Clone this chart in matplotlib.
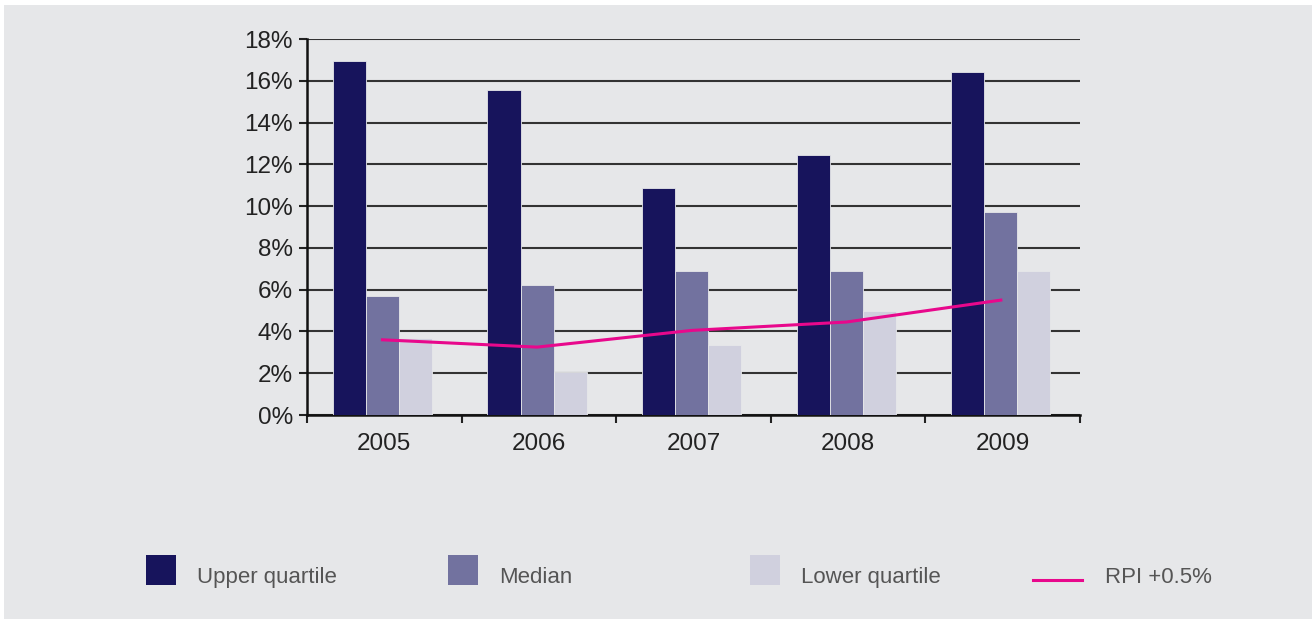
import numpy as np
import matplotlib.pyplot as plt
from matplotlib.patches import Rectangle
from matplotlib.lines import Line2D
from matplotlib.ticker import FuncFormatter

YEARS = ['2005', '2006', '2007', '2008', '2009']
UPPER = [16.95, 15.55, 10.85, 12.45, 16.4]
MEDIAN = [5.7, 6.2, 6.9, 6.9, 9.7]
LOWER = [3.7, 2.05, 3.35, 5.0, 6.9]
RPI = [3.6, 3.25, 4.05, 4.45, 5.5]

NAMES = ['Upper quartile', 'Median', 'Lower quartile']
COLOURS = ['#17145c', '#72729f', '#d0d0de']
PINK = '#e8088c'
BG = '#e6e7e9'

W, H = 1312, 619
plt.rcParams['font.family'] = ['Liberation Sans', 'DejaVu Sans']

fig = plt.figure(figsize=(W / 100, H / 100), dpi=100)
fig.patch.set_facecolor('white')
fig.add_artist(Rectangle((4 / W, 0), 1 - 4 / W, 1 - 5 / H,
                         transform=fig.transFigure, facecolor=BG,
                         edgecolor='none', zorder=-10))

ax = fig.add_axes([307 / W, (H - 415) / H, (1080 - 307) / W, (415 - 39) / H])
ax.set_facecolor(BG)

x = np.arange(len(YEARS))
bw = 0.214
shift = -0.012
for i, (vals, col) in enumerate(zip([UPPER, MEDIAN, LOWER], COLOURS)):
    ax.bar(x + (i - 1) * bw + shift, vals, bw, color=col, edgecolor=BG,
           linewidth=0.6, zorder=3)
ax.plot(x + shift, RPI, color=PINK, linewidth=2.2, zorder=4)

ax.set_xlim(-0.5, len(YEARS) - 0.5)
ax.set_ylim(0, 18)
ax.set_yticks(np.arange(0, 19, 2))
ax.yaxis.set_major_formatter(FuncFormatter(lambda v, p: '%d%%' % v))
ax.set_xticks(x)
ax.set_xticklabels(YEARS)
ax.set_xticks(np.arange(-0.5, len(YEARS), 1), minor=True)
ax.tick_params(axis='x', which='major', length=0, pad=13,
               labelsize=17.5, labelcolor='#222222')
ax.tick_params(axis='x', which='minor', length=6, width=1.5,
               direction='out', color='#222222')
ax.tick_params(axis='y', length=6, width=1.5, pad=4,
               labelsize=17.5, labelcolor='#222222', color='#222222')
ax.yaxis.grid(True, color='#333333', linewidth=1.5, zorder=1)
ax.set_axisbelow(True)
for side in ['top', 'right']:
    ax.spines[side].set_visible(False)
for side in ['left', 'bottom']:
    ax.spines[side].set_linewidth(1.8)
    ax.spines[side].set_color('#111111')

# legend row along the bottom, fixed column spacing
for k, (name, col) in enumerate(zip(NAMES, COLOURS)):
    x0 = 146 + k * 302
    fig.add_artist(Rectangle((x0 / W, (H - 585) / H), 30 / W, 30 / H,
                             transform=fig.transFigure, facecolor=col,
                             edgecolor='none'))
    fig.text((x0 + 51) / W, (H - 583) / H, name, fontsize=16,
             color='#555555', va='baseline', ha='left')
fig.add_artist(Line2D([1033 / W, 1082 / W], [(H - 580) / H] * 2,
                      transform=fig.transFigure, color=PINK, linewidth=2.2))
fig.text(1105 / W, (H - 583) / H, 'RPI +0.5%', fontsize=16,
         color='#555555', va='baseline', ha='left')

fig.savefig('out.png', dpi=100, facecolor=fig.get_facecolor())
